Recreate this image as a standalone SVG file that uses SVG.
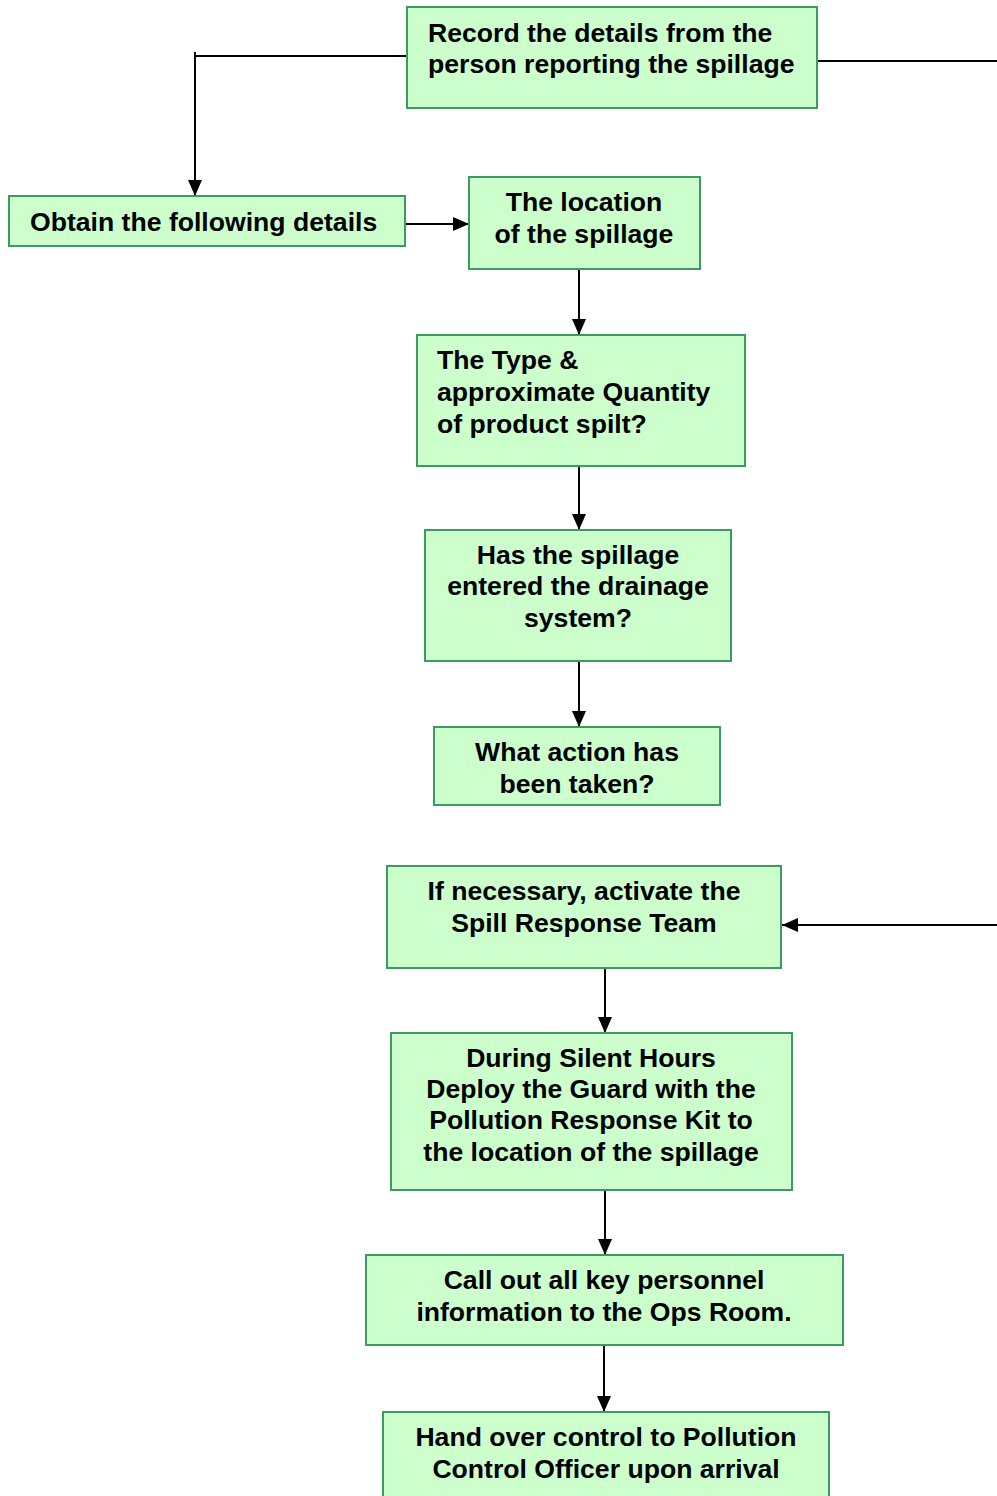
<svg xmlns="http://www.w3.org/2000/svg" width="997" height="1496" viewBox="0 0 997 1496">
<style>
.box{fill:#ccffcc;stroke:#3c9a64;stroke-width:2}
.t{font-family:"Liberation Sans",Arial,sans-serif;font-weight:bold;font-size:26.6px;fill:#000}
.c{text-anchor:middle}
.ln{fill:none;stroke:#000;stroke-width:2}
</style>
<defs>
<marker id="a" viewBox="0 0 16 14" refX="16" refY="7" markerWidth="16" markerHeight="14" markerUnits="userSpaceOnUse" orient="auto">
<path d="M0,0 L16,7 L0,14 z" fill="#000"/>
</marker>
</defs>
<rect width="997" height="1496" fill="#fff"/>
<g id="connectors">
<path class="ln" d="M407,56 H195 V52 M195,56 V196" marker-end="url(#a)"/>
<path class="ln" d="M817,61 H997"/>
<path class="ln" d="M405,224 H469" marker-end="url(#a)"/>
<path class="ln" d="M579,269 V335" marker-end="url(#a)"/>
<path class="ln" d="M579,466 V530" marker-end="url(#a)"/>
<path class="ln" d="M579,661 V727" marker-end="url(#a)"/>
<path class="ln" d="M997,925 H782" marker-end="url(#a)"/>
<path class="ln" d="M605,968 V1033" marker-end="url(#a)"/>
<path class="ln" d="M605,1190 V1255" marker-end="url(#a)"/>
<path class="ln" d="M604,1345 V1412" marker-end="url(#a)"/>
</g>
<g id="n1"><rect class="box" x="407" y="7" width="410" height="101"/>
<text class="t" x="428" y="42">Record the details from the</text>
<text class="t" x="428" y="73">person reporting the spillage</text></g>
<g id="n2"><rect class="box" x="9" y="196" width="396" height="50"/>
<text class="t" x="30" y="231">Obtain the following details</text></g>
<g id="n3"><rect class="box" x="469" y="177" width="231" height="92"/>
<text class="t c" x="584" y="211">The location</text>
<text class="t c" x="584" y="243">of the spillage</text></g>
<g id="n4"><rect class="box" x="417" y="335" width="328" height="131"/>
<text class="t" x="437" y="369">The Type &amp;</text>
<text class="t" x="437" y="401">approximate Quantity</text>
<text class="t" x="437" y="433">of product spilt?</text></g>
<g id="n5"><rect class="box" x="425" y="530" width="306" height="131"/>
<text class="t c" x="578" y="564">Has the spillage</text>
<text class="t c" x="578" y="595">entered the drainage</text>
<text class="t c" x="578" y="627">system?</text></g>
<g id="n6"><rect class="box" x="434" y="727" width="286" height="78"/>
<text class="t c" x="577" y="761">What action has</text>
<text class="t c" x="577" y="793">been taken?</text></g>
<g id="n7"><rect class="box" x="387" y="866" width="394" height="102"/>
<text class="t c" x="584" y="900">If necessary, activate the</text>
<text class="t c" x="584" y="932">Spill Response Team</text></g>
<g id="n8"><rect class="box" x="391" y="1033" width="401" height="157"/>
<text class="t c" x="591" y="1067">During Silent Hours</text>
<text class="t c" x="591" y="1098">Deploy the Guard with the</text>
<text class="t c" x="591" y="1129">Pollution Response Kit to</text>
<text class="t c" x="591" y="1161">the location of the spillage</text></g>
<g id="n9"><rect class="box" x="366" y="1255" width="477" height="90"/>
<text class="t c" x="604" y="1289">Call out all key personnel</text>
<text class="t c" x="604" y="1321">information to the Ops Room.</text></g>
<g id="n10"><rect class="box" x="383" y="1412" width="446" height="100"/>
<text class="t c" x="606" y="1446">Hand over control to Pollution</text>
<text class="t c" x="606" y="1478">Control Officer upon arrival</text></g>
</svg>
